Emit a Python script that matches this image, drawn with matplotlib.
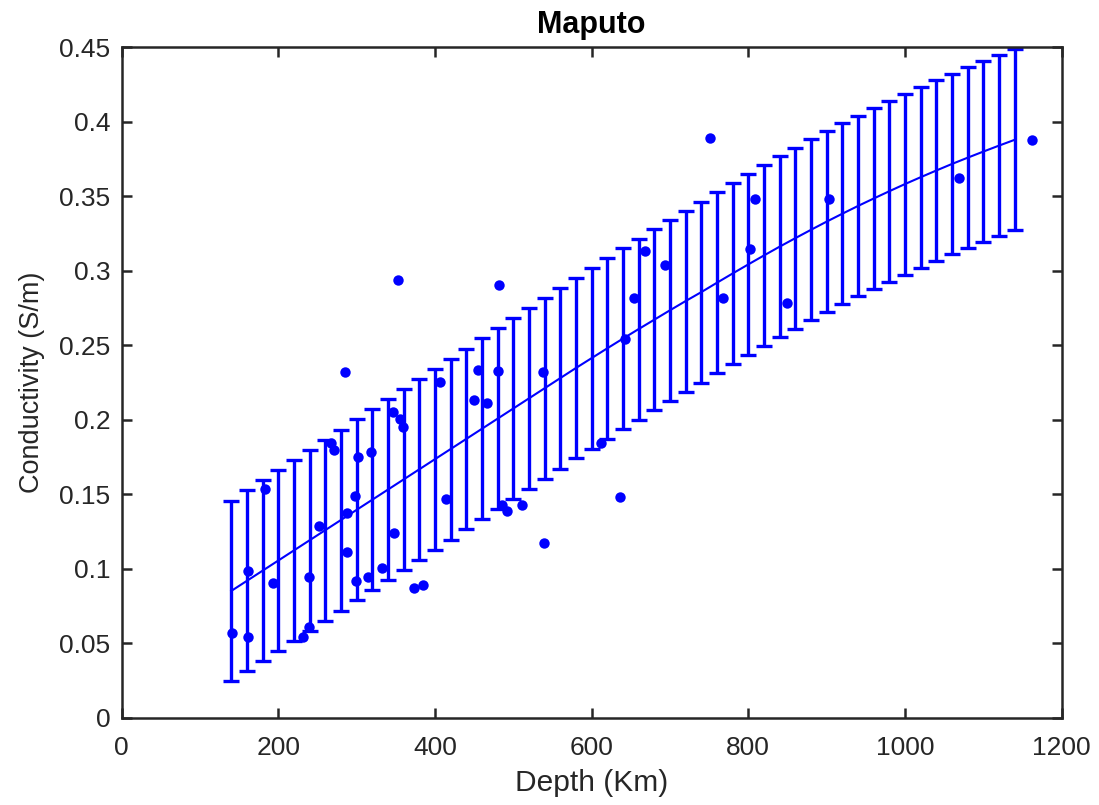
import matplotlib
matplotlib.use("Agg")
import matplotlib.pyplot as plt
from matplotlib.ticker import FixedLocator, FixedFormatter

# ---- data -------------------------------------------------------------
fit_depth = [140, 160, 180, 200, 220, 240, 260, 280, 300, 320, 340, 360, 380,
             400, 420, 440, 460, 480, 500, 520, 540, 560, 580, 600, 620, 640,
             660, 680, 700, 720, 740, 760, 780, 800, 820, 840, 860, 880, 900,
             920, 940, 960, 980, 1000, 1020, 1040, 1060, 1080, 1100, 1120, 1140]
fit_cond = [0.0850, 0.0918, 0.0986, 0.1054, 0.1122, 0.1190, 0.1258, 0.1326,
            0.1394, 0.1462, 0.1530, 0.1598, 0.1666, 0.1734, 0.1802, 0.1870,
            0.1938, 0.2006, 0.2074, 0.2142, 0.2210, 0.2278, 0.2346, 0.2412,
            0.2478, 0.2543, 0.2607, 0.2670, 0.2733, 0.2795, 0.2855, 0.2918,
            0.2980, 0.3041, 0.3101, 0.3160, 0.3217, 0.3273, 0.3328, 0.3381,
            0.3433, 0.3483, 0.3532, 0.3580, 0.3626, 0.3671, 0.3715, 0.3757,
            0.3798, 0.3838, 0.3877]
fit_err = 0.0607

obs_depth = [140.7, 161.9, 161.9, 183.2, 193.0, 231.3, 239.8, 239.8, 252.5,
             267.5, 271.7, 285.7, 287.5, 287.9, 298.1, 299.0, 302.3, 315.1,
             318.1, 332.6, 346.2, 348.3, 355.5, 359.4, 373.4, 384.5, 352.6,
             406.6, 413.9, 450.0, 455.5, 466.2, 480.7, 481.9, 485.4, 492.5,
             511.3, 538.5, 539.8, 612.2, 636.4, 642.4, 653.9, 668.0, 693.5,
             751.3, 767.5, 802.4, 808.8, 850.0, 902.8, 1069.6, 1162.4]
obs_cond = [0.0567, 0.0987, 0.0542, 0.1536, 0.0903, 0.0544, 0.0605, 0.0947,
            0.1288, 0.1843, 0.1794, 0.2317, 0.1370, 0.1111, 0.1485, 0.0914,
            0.1749, 0.0947, 0.1782, 0.1001, 0.2053, 0.1240, 0.2004, 0.1953,
            0.0869, 0.0889, 0.2935, 0.2253, 0.1467, 0.2134, 0.2333, 0.2112,
            0.2329, 0.2906, 0.1424, 0.1388, 0.1424, 0.2320, 0.1175, 0.1843,
            0.1482, 0.2541, 0.2817, 0.3134, 0.3036, 0.3887, 0.2817, 0.3148,
            0.3477, 0.2779, 0.3477, 0.3618, 0.3873]

x_ticks = [0, 200, 400, 600, 800, 1000, 1200]
x_tick_labels = ["0", "200", "400", "600", "800", "1000", "1200"]
y_ticks = [0, 0.05, 0.1, 0.15, 0.2, 0.25, 0.3, 0.35, 0.4, 0.45]
y_tick_labels = ["0", "0.05", "0.1", "0.15", "0.2", "0.25", "0.3", "0.35",
                 "0.4", "0.45"]

# ---- style ------------------------------------------------------------
plt.rcParams["font.family"] = ["Liberation Sans", "DejaVu Sans"]
BLUE = "#0000ff"
DARK = "#262626"

fig = plt.figure(figsize=(10.99, 8.05), dpi=100)
ax = fig.add_axes([0.1106, 0.1085, 0.8553, 0.8331])

ax.plot(obs_depth, obs_cond, "o", color=BLUE, markersize=7.5,
        markeredgewidth=0, zorder=3)
ax.errorbar(fit_depth, fit_cond, yerr=fit_err, fmt="none", ecolor=BLUE,
            elinewidth=2.4, capsize=6, capthick=2.4, zorder=2)
ax.plot(fit_depth, fit_cond, "-", color=BLUE, linewidth=1.5, zorder=2)

ax.set_xlim(0, 1200)
ax.set_ylim(0, 0.45)
ax.xaxis.set_major_locator(FixedLocator(x_ticks))
ax.xaxis.set_major_formatter(FixedFormatter(x_tick_labels))
ax.yaxis.set_major_locator(FixedLocator(y_ticks))
ax.yaxis.set_major_formatter(FixedFormatter(y_tick_labels))

for sp in ax.spines.values():
    sp.set_color(DARK)
    sp.set_linewidth(1.8)
ax.tick_params(direction="in", length=7, width=1.8, color=DARK,
               labelcolor=DARK, labelsize=19, top=True, right=True, pad=8)
ax.tick_params(axis="x", pad=13)

ax.set_xlabel("Depth (Km)", fontsize=21.5, color=DARK, labelpad=7)
ax.set_ylabel("Conductivity (S/m)", fontsize=19.5, color=DARK, labelpad=10)
ax.set_title("Maputo", fontsize=22, fontweight="bold", color="black", pad=10)

fig.savefig("out.png", dpi=100)
